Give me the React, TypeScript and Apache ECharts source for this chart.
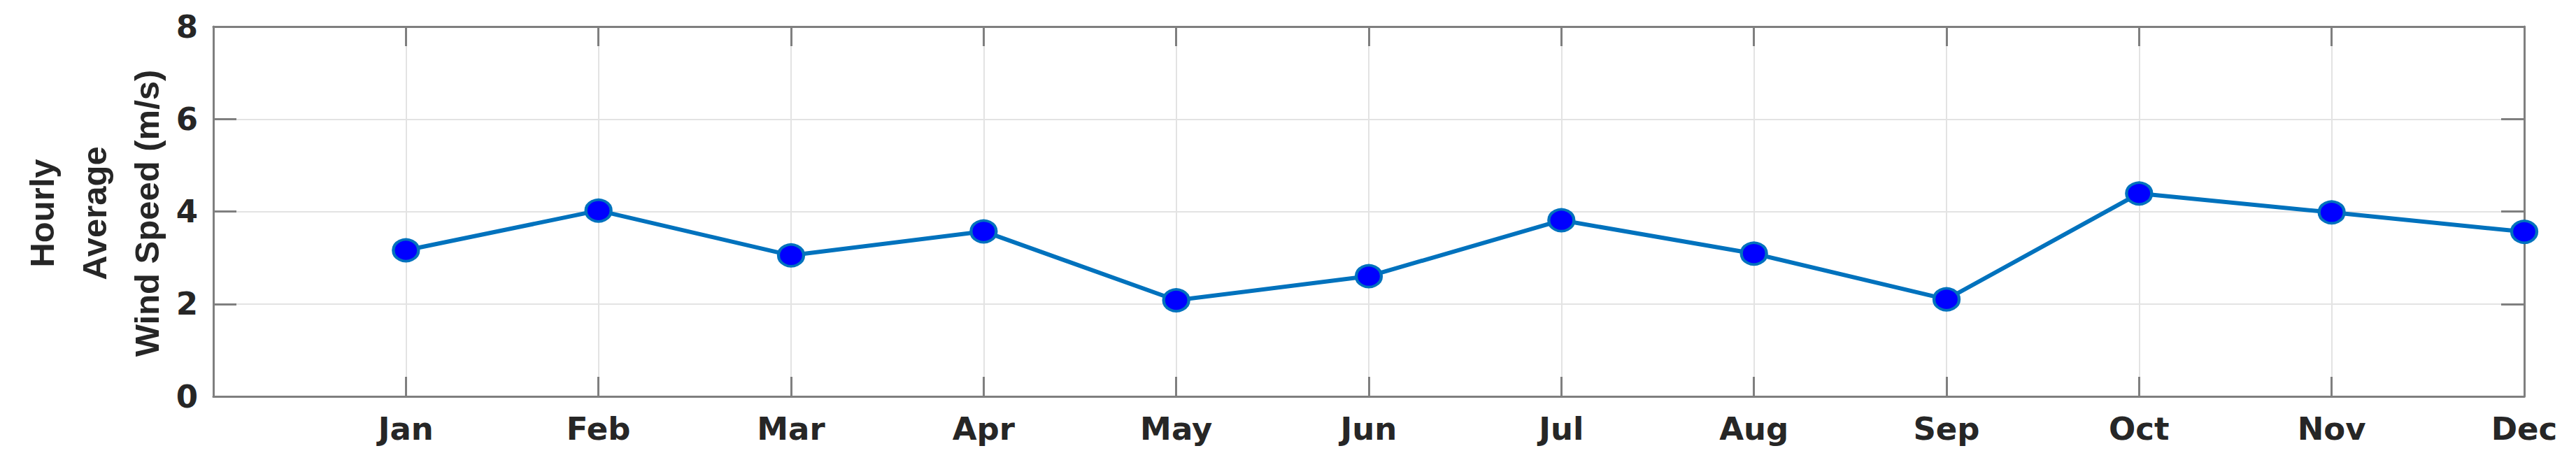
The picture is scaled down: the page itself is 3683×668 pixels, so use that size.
import React, { useEffect, useRef } from "react";
import * as echarts from "echarts";

const months = ["Jan", "Feb", "Mar", "Apr", "May", "Jun", "Jul", "Aug", "Sep", "Oct", "Nov", "Dec"];
const windSpeed = [3.16, 4.02, 3.05, 3.57, 2.08, 2.6, 3.81, 3.09, 2.1, 4.39, 3.98, 3.56];
const yTitleLines = ["Hourly", "Average", "Wind Speed (m/s)"];

const AXIS_COLOR = "#7f7f7f";
const TEXT_COLOR = "#262626";
const GRID_COLOR = "#e3e3e3";
const TICK_FONT = "'DejaVu Sans', sans-serif";

export default function App() {
  const ref = useRef<HTMLDivElement>(null);

  useEffect(() => {
    if (!ref.current) return;
    const chart = echarts.init(ref.current, undefined, { renderer: "svg" });
    const data = months.map((m, i) => [i + 1, windSpeed[i]]);
    const titleX = [60, 135, 210];

    const baseX = {
      type: "value" as const,
      min: 0,
      max: months.length,
      interval: 1,
    };
    const baseY = {
      type: "value" as const,
      min: 0,
      max: 8,
      interval: 2,
    };

    chart.setOption({
      animation: false,
      backgroundColor: "#ffffff",
      grid: { left: 305, right: 74, top: 38, bottom: 101, containLabel: false },
      xAxis: [
        {
          ...baseX,
          position: "bottom",
          axisLine: { show: true, onZero: false, lineStyle: { color: AXIS_COLOR, width: 3 } },
          axisTick: { show: true, inside: true, length: 28, lineStyle: { color: AXIS_COLOR, width: 3 } },
          axisLabel: {
            show: true,
            margin: 24,
            color: TEXT_COLOR,
            fontFamily: TICK_FONT,
            fontWeight: "bold",
            fontSize: 45,
            formatter: (v: number) => (v >= 1 && v <= months.length ? months[v - 1] : ""),
          },
          splitLine: { show: true, lineStyle: { color: GRID_COLOR, width: 2 } },
        },
        {
          ...baseX,
          position: "top",
          axisLine: { show: true, onZero: false, lineStyle: { color: AXIS_COLOR, width: 3 } },
          axisTick: { show: true, inside: true, length: 28, lineStyle: { color: AXIS_COLOR, width: 3 } },
          axisLabel: { show: false },
          splitLine: { show: false },
        },
      ],
      yAxis: [
        {
          ...baseY,
          position: "left",
          axisLine: { show: true, onZero: false, lineStyle: { color: AXIS_COLOR, width: 3 } },
          axisTick: { show: true, inside: true, length: 33, lineStyle: { color: AXIS_COLOR, width: 3 } },
          axisLabel: {
            show: true,
            margin: 22,
            color: TEXT_COLOR,
            fontFamily: TICK_FONT,
            fontWeight: "bold",
            fontSize: 45,
          },
          splitLine: { show: true, lineStyle: { color: GRID_COLOR, width: 2 } },
        },
        {
          ...baseY,
          position: "right",
          axisLine: { show: true, onZero: false, lineStyle: { color: AXIS_COLOR, width: 3 } },
          axisTick: { show: true, inside: true, length: 33, lineStyle: { color: AXIS_COLOR, width: 3 } },
          axisLabel: { show: false },
          splitLine: { show: false },
        },
      ],
      graphic: yTitleLines.map((t, i) => ({
        type: "text",
        x: titleX[i],
        y: 305,
        rotation: Math.PI / 2,
        style: {
          text: t,
          fill: TEXT_COLOR,
          font: "bold 49px 'Liberation Sans', Arial, sans-serif",
          textAlign: "center",
          textVerticalAlign: "middle",
        },
      })),
      series: [
        {
          type: "line",
          xAxisIndex: 0,
          yAxisIndex: 0,
          data,
          symbol: "circle",
          symbolSize: [36, 31],
          lineStyle: { color: "#0072BD", width: 6 },
          itemStyle: { color: "#0000FF", borderColor: "#0072BD", borderWidth: 4 },
          z: 5,
        },
      ],
    });

    return () => chart.dispose();
  }, []);

  return (
    <div
      ref={ref}
      style={{ position: "fixed", left: 0, top: 0, width: 3683, height: 668, background: "#fff" }}
    />
  );
}
